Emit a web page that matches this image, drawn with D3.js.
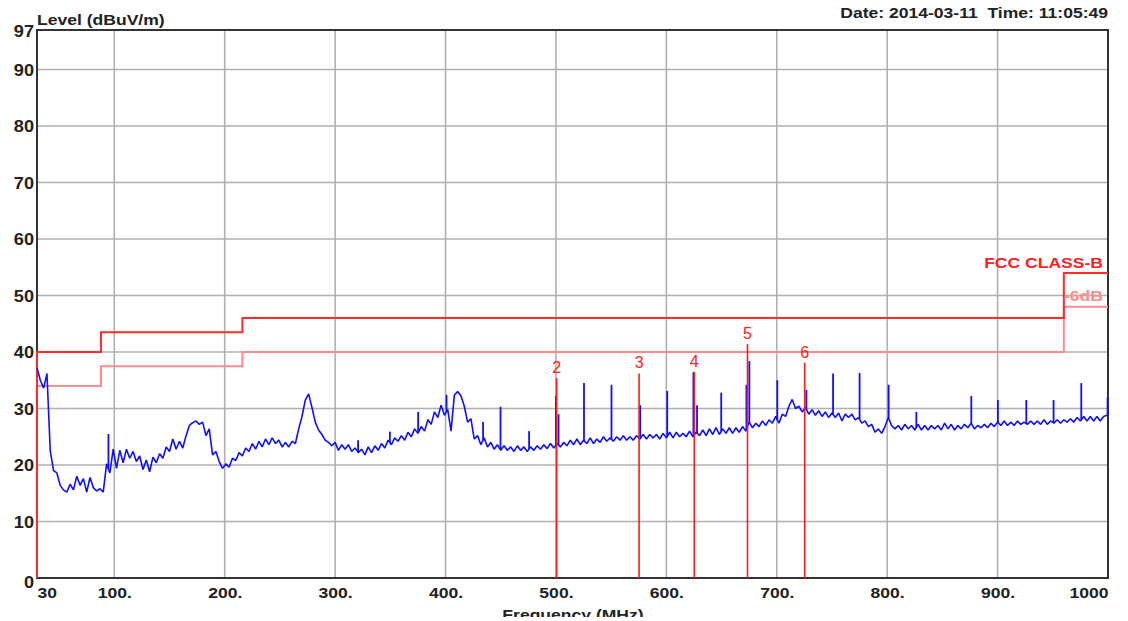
<!DOCTYPE html>
<html>
<head>
<meta charset="utf-8">
<script src="https://cdn.jsdelivr.net/npm/d3@7/dist/d3.min.js"></script>
<style>
  html, body { margin: 0; padding: 0; background: #fff; }
  svg { display: block; font-family: "Liberation Sans", Arial, sans-serif; }
  text { white-space: pre; }
</style>
</head>
<body>
<svg id="chart" width="1128" height="621"></svg>
<script>
// Sweep: 30 MHz start, 3 MHz per sample
const sweepStart = 30;
const sweepStep = 3;
const levels = [
  37.2,35.0,33.6,36.2,22.5,19.0,18.6,16.4,15.6,15.2,
  16.6,15.6,18.0,16.4,17.6,15.2,17.8,16.0,15.4,15.8,
  15.2,20.2,18.6,22.8,19.4,22.6,20.4,22.8,21.2,22.4,
  20.6,21.6,19.2,20.9,18.8,21.4,20.4,22.0,21.2,23.2,
  22.4,24.6,22.8,24.2,23.0,25.2,27.0,27.5,27.8,27.2,
  27.6,25.2,26.4,21.8,22.4,20.6,19.4,20.2,19.6,21.2,
  20.8,22.2,21.6,23.0,22.4,23.8,22.8,24.2,23.2,24.6,
  23.6,24.8,23.8,24.4,23.2,24.0,23.2,24.2,23.8,26.4,
  28.6,31.5,32.6,30.2,27.6,26.2,25.4,24.4,24.0,23.4,
  24.0,22.6,23.6,22.8,23.6,22.4,23.0,22.2,22.8,21.8,
  23.2,22.2,23.4,22.6,23.8,23.0,24.4,23.6,24.8,24.2,
  25.2,24.4,25.8,25.0,26.4,25.6,26.8,26.0,28.0,27.2,
  29.4,28.4,30.6,28.8,29.8,26.0,32.4,33.0,32.2,30.4,
  27.6,28.2,24.6,25.2,23.6,24.8,23.2,24.0,22.8,23.6,
  22.6,23.4,22.6,23.2,22.4,23.4,22.6,23.2,22.4,23.2,
  22.6,23.4,22.8,23.6,22.9,23.8,23.0,23.8,23.2,24.0,
  23.4,24.4,23.6,24.6,23.6,24.4,23.8,24.8,23.8,24.6,
  24.0,25.0,24.2,24.8,24.2,25.0,24.4,25.2,24.4,25.0,
  24.4,25.2,24.6,25.4,24.6,25.4,24.8,25.4,24.6,25.6,
  24.8,25.8,24.8,25.8,25.0,25.6,25.0,26.0,25.0,25.8,
  25.2,26.2,25.2,26.4,25.4,26.6,25.4,26.4,25.6,26.6,
  25.6,26.6,25.8,26.8,26.0,27.6,26.6,27.4,26.8,27.8,
  27.0,28.0,27.4,28.6,27.4,29.0,28.6,30.4,31.6,30.0,
  30.4,29.4,30.2,29.0,29.8,28.8,29.6,28.6,29.4,28.4,
  29.2,28.4,29.2,27.8,29.0,28.4,29.0,28.0,28.4,27.4,
  27.8,26.8,27.2,25.8,26.4,25.6,26.8,28.4,27.0,26.4,
  27.0,26.2,27.2,26.4,27.0,26.2,27.2,26.2,27.0,26.2,
  27.0,26.4,27.0,26.2,27.4,26.4,27.2,26.2,27.0,26.4,
  27.2,26.6,27.4,26.4,27.0,26.6,27.2,26.6,27.4,26.8,
  27.6,27.0,27.8,27.0,27.6,27.0,27.8,27.2,27.6,27.2,
  27.8,27.2,27.8,27.2,28.0,27.2,27.8,27.4,28.0,27.4,
  28.0,27.6,28.2,27.6,28.4,27.8,28.6,27.8,28.6,27.8,
  28.6,27.8,28.6,28.8
];

// Narrow emission peaks: frequency (MHz) and peak level (dBuV/m)
const spikeFreqs = [94.7,320.8,349.6,375.2,400.9,434.0,449.8,475.7,500.0,502.3,525.4,550.3,576.3,600.8,624.5,627.8,649.7,672.5,675.2,700.5,726.8,751.0,775.0,801.3,826.4,876.2,900.3,926.0,950.7,975.8,999.6];
const spikeLevels = [25.5,24.4,25.9,29.4,32.4,27.6,30.3,26.0,32.2,29.0,34.5,34.2,30.6,33.1,36.4,30.6,32.8,34.2,38.4,35.0,33.3,36.2,36.3,34.2,29.4,32.2,31.5,31.5,31.5,34.5,32.0];

// FCC Class B limit and the -6 dB margin line
const limitFreqs  = [30, 30, 88, 88, 216, 216, 960, 960, 1000];
const limitLevels = [0, 40, 40, 43.5, 43.5, 46, 46, 54, 54];
const marginFreqs  = [30, 88, 88, 216, 216, 960, 960, 1000];
const marginLevels = [34, 34, 37.5, 37.5, 40, 40, 48, 48];

// Markers
const markerLabels = ["2", "3", "4", "5", "6"];
const markerFreqs  = [500.6, 575.3, 625.3, 673.5, 725.3];
const markerLevels = [35.4, 36.2, 36.5, 41.4, 38.1];

// Axis ticks
const xTicks = [30, 100, 200, 300, 400, 500, 600, 700, 800, 900, 1000];
const xTickLabels = ["30", "100.", "200.", "300.", "400.", "500.", "600.", "700.", "800.", "900.", "1000"];
const yTicks = [0, 10, 20, 30, 40, 50, 60, 70, 80, 90, 97];

const svg = d3.select("#chart");
const plotLeft = 37, plotRight = 1108, plotTop = 30, plotBottom = 578;
const stretch = 1.17;   // the analyzer's font is rendered wide
const FONT = "'Liberation Sans', Arial, sans-serif";

const x = d3.scaleLinear().domain([30, 1000]).range([plotLeft, plotRight]);
const y = d3.scaleLinear().domain([0, 97]).range([plotBottom, plotTop]);

// Grid
const grid = svg.append("g").attr("stroke", "#b0b0b0").attr("stroke-width", 1.6);
grid.selectAll("line.gx").data(xTicks.filter(d => d > 30 && d < 1000)).join("line")
  .attr("class", "gx")
  .attr("x1", d => x(d)).attr("x2", d => x(d)).attr("y1", plotTop).attr("y2", plotBottom);
grid.selectAll("line.gy").data(yTicks.filter(d => d > 0 && d < 97)).join("line")
  .attr("class", "gy")
  .attr("x1", plotLeft).attr("x2", plotRight).attr("y1", d => y(d)).attr("y2", d => y(d));

// Frame
svg.append("rect")
  .attr("x", plotLeft).attr("y", plotTop)
  .attr("width", plotRight - plotLeft).attr("height", plotBottom - plotTop)
  .attr("fill", "none").attr("stroke", "#333").attr("stroke-width", 2);

// Axes (labels only)
const xAxis = d3.axisBottom(x).tickValues(xTicks).tickSize(0).tickPadding(0)
  .tickFormat((d, i) => xTickLabels[i]);
const gx = svg.append("g").attr("transform", `translate(0,${plotBottom})`).call(xAxis);
gx.select(".domain").remove();
gx.selectAll("text")
  .attr("y", 20).attr("dy", 0)
  .attr("transform", `scale(${stretch},1)`)
  .attr("font-size", 15).attr("font-weight", "bold").attr("fill", "#222")
  .attr("font-family", FONT)
  .attr("text-anchor", (d, i) => i === 0 ? "start" : (i === xTicks.length - 1 ? "end" : "middle"));

const yAxis = d3.axisLeft(y).tickValues(yTicks).tickSize(0).tickPadding(0);
const gy = svg.append("g").attr("transform", `translate(${plotLeft - 3},0)`).call(yAxis);
gy.select(".domain").remove();
gy.selectAll("text")
  .attr("x", 0).attr("dy", d => d === 0 ? 9 : (d === 97 ? 6 : 5.5))
  .attr("transform", `scale(${stretch * 0.97},1)`)
  .attr("font-size", 16).attr("font-weight", "bold").attr("fill", "#222")
  .attr("font-family", FONT);

// Limit lines
const line = d3.line().x(d => x(d[0])).y(d => y(d[1]));
svg.append("path")
  .datum(marginFreqs.map((f, i) => [f, marginLevels[i]]))
  .attr("d", line).attr("fill", "none").attr("stroke", "#ff8c8c").attr("stroke-width", 2);
svg.append("path")
  .datum(limitFreqs.map((f, i) => [f, limitLevels[i]]))
  .attr("d", line).attr("fill", "none").attr("stroke", "#ff2a2a").attr("stroke-width", 2);

// Measured trace
const trace = levels.map((v, i) => [sweepStart + i * sweepStep, v]);
svg.append("path")
  .datum(trace)
  .attr("d", line).attr("fill", "none").attr("stroke", "#1010ff")
  .attr("stroke-width", 1.6).attr("stroke-linejoin", "bevel");

// Peaks rise from the trace level at their frequency
const traceAt = f => {
  const i = Math.min(Math.floor((f - sweepStart) / sweepStep), levels.length - 2);
  const t = (f - (sweepStart + i * sweepStep)) / sweepStep;
  return levels[i] + (levels[i + 1] - levels[i]) * Math.min(Math.max(t, 0), 1);
};
svg.append("g").selectAll("line").data(spikeFreqs).join("line")
  .attr("x1", d => x(d)).attr("x2", d => x(d))
  .attr("y1", d => y(traceAt(d)))
  .attr("y2", (d, i) => y(spikeLevels[i]))
  .attr("stroke", "#1010ff").attr("stroke-width", 1.8);

// Markers
const mk = svg.append("g");
mk.selectAll("line").data(markerFreqs).join("line")
  .attr("x1", d => x(d)).attr("x2", d => x(d))
  .attr("y1", y(0)).attr("y2", (d, i) => y(markerLevels[i]))
  .attr("stroke", "#ff1a1a").attr("stroke-width", 1.6);
mk.selectAll("text").data(markerFreqs).join("text")
  .attr("x", d => x(d)).attr("y", (d, i) => y(markerLevels[i]) - 5)
  .attr("text-anchor", "middle").attr("font-size", 16).attr("fill", "#ff2020")
  .text((d, i) => markerLabels[i]);

// Titles and legend text (drawn wide, like the axis labels)
function label(tx, ty, str, anchor, color, size) {
  return svg.append("text")
    .attr("transform", `translate(${tx},${ty}) scale(${stretch},1)`)
    .attr("text-anchor", anchor)
    .attr("font-size", size).attr("font-weight", "bold").attr("fill", color)
    .attr("font-family", FONT)
    .text(str);
}
label(37, 25, "Level (dBuV/m)", "start", "#222", 15);
label(1108, 18, "Date: 2014-03-11  Time: 11:05:49", "end", "#222", 15);
label(1103, 268, "FCC CLASS-B", "end", "#ff2020", 15);
label(1103, 301, "-6dB", "end", "#ff8c8c", 15);

// Axis title sits at the lower edge and is cut off there
svg.append("clipPath").attr("id", "edge")
  .append("rect").attr("x", 0).attr("y", 0).attr("width", 1128).attr("height", 617);
svg.append("g").attr("clip-path", "url(#edge)")
  .append("text")
  .attr("transform", `translate(573,620) scale(${stretch},1)`)
  .attr("text-anchor", "middle")
  .attr("font-size", 15).attr("font-weight", "bold").attr("fill", "#222")
  .attr("font-family", FONT)
  .text("Frequency (MHz)");
</script>
</body>
</html>
